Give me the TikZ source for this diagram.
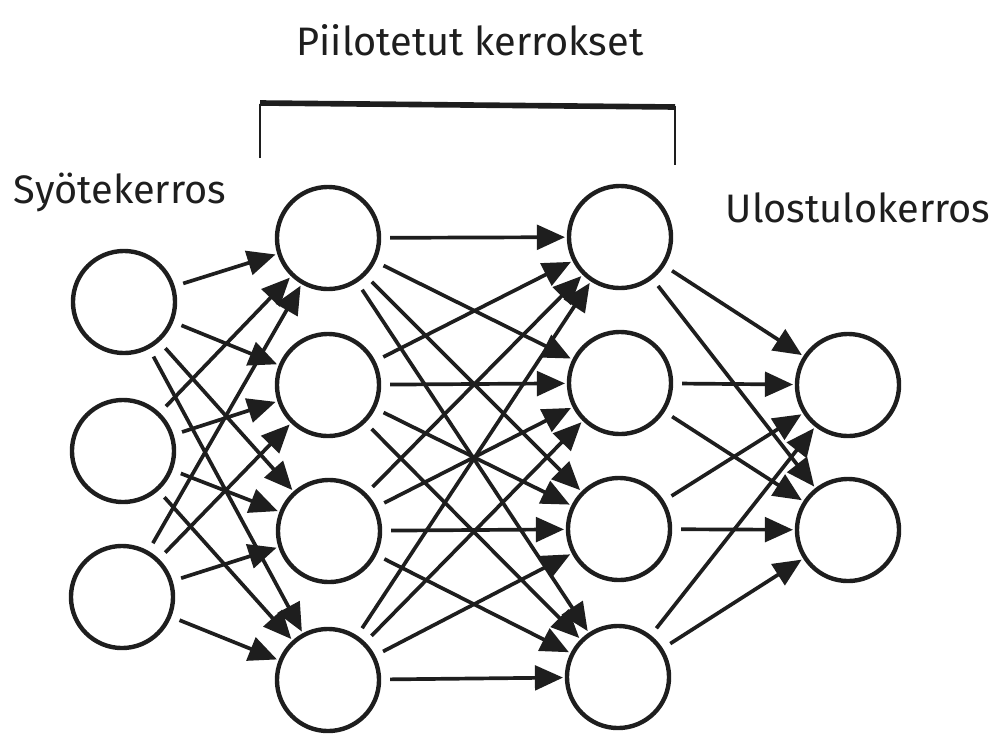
\documentclass[tikz,border=0pt]{standalone}
\usepackage{fontspec}
\setmainfont{Fira Sans}
\usetikzlibrary{arrows.meta}
\definecolor{ink}{HTML}{1E1E1E}

\begin{document}
\begin{tikzpicture}[x=0.01cm, y=-0.01cm,
  neuron/.style={circle, draw=ink, line width=1.25pt, minimum size=1.02cm, inner sep=0pt},
  link/.style={ink, line width=1.05pt, -{Triangle[length=8pt, width=7pt]}, shorten <=2.5pt, shorten >=0.5pt},
  caption/.style={text=ink, font=\fontsize{11.3}{13}\selectfont}]
  \useasboundingbox (0,0) rectangle (1000,748);

  % Input layer
  \node[neuron] (in1) at (124, 302) {};
  \node[neuron] (in2) at (123, 451) {};
  \node[neuron] (in3) at (122, 597) {};

  % First hidden layer
  \node[neuron] (ha1) at (328, 238) {};
  \node[neuron] (ha2) at (328, 385) {};
  \node[neuron] (ha3) at (329, 531) {};
  \node[neuron] (ha4) at (328, 680) {};

  % Second hidden layer
  \node[neuron] (hb1) at (620, 237) {};
  \node[neuron] (hb2) at (620, 383) {};
  \node[neuron] (hb3) at (619, 529) {};
  \node[neuron] (hb4) at (618, 677) {};

  % Output layer
  \node[neuron] (out1) at (848, 385) {};
  \node[neuron] (out2) at (848, 530) {};

  % Layer captions
  \node[caption] (capin) at (120, 192) {Syötekerros};
  \node[caption] (caphid) at (470, 40) {Piilotetut kerrokset};
  \node[caption] (capout) at (858, 208) {Ulostulokerros};

  % Bracket over the hidden layers
  \coordinate (brl) at (260, 158);
  \coordinate (brr) at (675, 165);
  \draw[ink, line width=0.75pt] (brl) -- (260, 104);
  \draw[ink, line width=1.6pt] (260, 103) -- (675, 107);
  \draw[ink, line width=0.75pt] (675, 106) -- (brr);

  % Connections
  \foreach \a in {1,2,3}
    \foreach \b in {1,...,4}
      \draw[link] (in\a) -- (ha\b);
  \foreach \a in {1,...,4}
    \foreach \b in {1,...,4}
      \draw[link] (ha\a) -- (hb\b);
  \foreach \a in {1,...,4}
    \foreach \b in {1,2}
      \draw[link] (hb\a) -- (out\b);
\end{tikzpicture}
\end{document}
